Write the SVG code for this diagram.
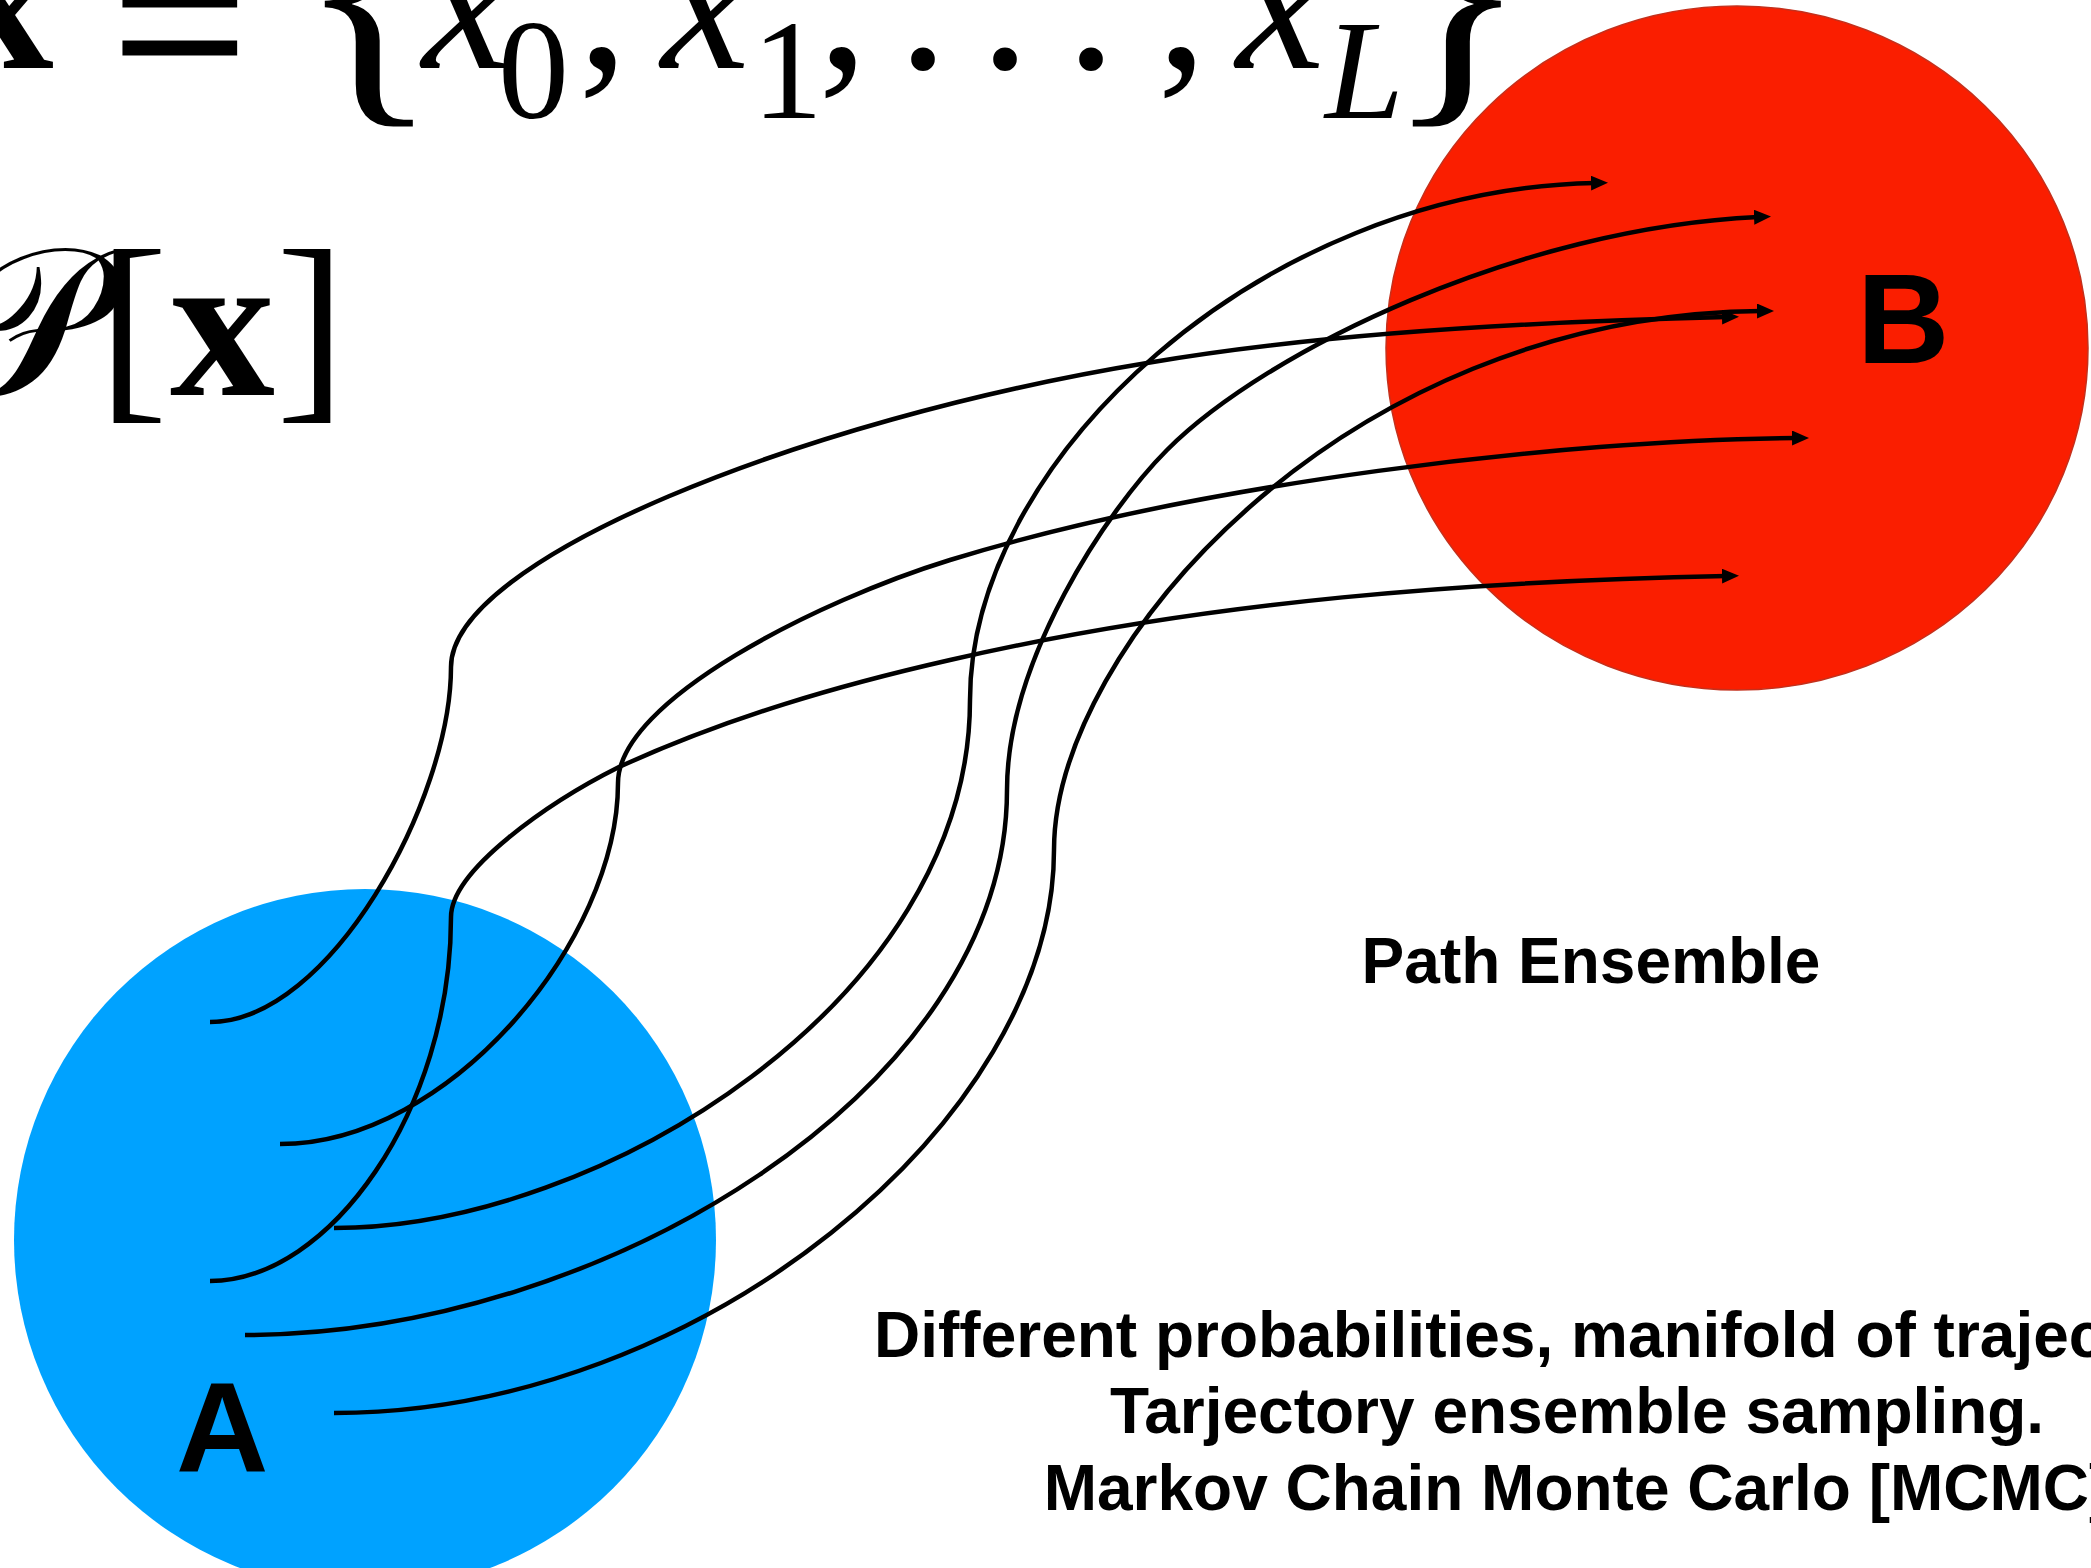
<svg xmlns="http://www.w3.org/2000/svg" width="2091" height="1568" viewBox="0 0 2091 1568">
<style>
.math{font-family:"Liberation Serif","DejaVu Serif",serif;fill:#000}
.lbl{font-family:"Liberation Sans",Arial,sans-serif;font-weight:bold;fill:#000}
.path{fill:none;stroke:#000;stroke-width:4.5;marker-end:url(#arr)}
</style>
<defs>
<marker id="arr" markerUnits="userSpaceOnUse" markerWidth="17" markerHeight="15" refX="4" refY="7.5" orient="auto">
<path d="M0,0 L17,7.5 L0,15 z" fill="#000"/>
</marker>
</defs>
<rect width="2091" height="1568" fill="#fff"/>
<g id="node-A">
<circle cx="365" cy="1240" r="351" fill="#00A2FF"/>
<text class="lbl" x="176" y="1472" font-size="128">A</text>
</g>
<g id="node-B">
<ellipse cx="1737" cy="348" rx="351" ry="342" fill="#FA1E00" stroke="#C4301C" stroke-width="1.5"/>
<text class="lbl" x="1857" y="363" font-size="128">B</text>
</g>
<g id="formula-path">
<text class="math"><tspan x="-46" y="68" font-size="200" font-weight="bold">x</tspan><tspan x="112" y="104" font-size="240" stroke="#000" stroke-width="3">=</tspan><tspan x="298" y="87" font-size="295">{</tspan><tspan x="422" y="68" font-size="200" font-style="italic">x</tspan><tspan x="498" y="118" font-size="142">0</tspan><tspan x="578" y="68" font-size="200">,</tspan><tspan x="661" y="68" font-size="200" font-style="italic">x</tspan><tspan x="752" y="118" font-size="142">1</tspan><tspan x="818" y="68" font-size="200">,</tspan><tspan x="898" y="68" font-size="200">.</tspan><tspan x="980" y="68" font-size="200">.</tspan><tspan x="1066" y="68" font-size="200">.</tspan><tspan x="1157" y="68" font-size="200">,</tspan><tspan x="1236" y="68" font-size="200" font-style="italic">x</tspan><tspan x="1325" y="118" font-size="142" font-style="italic">L</tspan><tspan x="1386" y="87" font-size="295">}</tspan></text>
</g>
<g id="formula-prob">
<text class="math" y="395" font-size="210"><tspan x="100" text-anchor="end" style="font-family:'DejaVu Serif','DejaVu Sans','Noto Sans',serif">𝒫</tspan><tspan x="98">[</tspan><tspan x="170" font-weight="bold">x</tspan><tspan x="276">]</tspan></text>
</g>
<g id="connectors">
<path class="path" d="M210,1022 C330,1022 451,800 451,667 C451,560 800,420 1147,363 C1327,332 1558,321 1726,317"/>
<path class="path" d="M280,1144 C450,1144 618,940 618,783 C618,700 820,600 950,560 C1200,483 1560,440 1796,438"/>
<path class="path" d="M334,1228 C600,1228 970,1000 970,700 C970,460 1260,190 1595,183"/>
<path class="path" d="M210,1281 C330,1281 451,1110 451,917 C451,870 549,802 619,767 C729,717 840,685 950,660 C1210,600 1478,581 1726,576"/>
<path class="path" d="M245,1335 C600,1335 1007,1090 1007,790 C1007,660 1107,510 1167,450 C1267,350 1520,228 1758,217"/>
<path class="path" d="M334,1413 C700,1413 1054,1120 1054,850 C1054,650 1340,315 1761,311"/>
</g>
<g id="texts">
<text class="lbl" x="1591" y="983" font-size="64" text-anchor="middle">Path Ensemble</text>
<text class="lbl" x="874" y="1357" font-size="64">Different probabilities, manifold of trajec</text>
<text class="lbl" x="1577" y="1433" font-size="64" text-anchor="middle">Tarjectory ensemble sampling.</text>
<text class="lbl" x="1577" y="1510" font-size="64" text-anchor="middle">Markov Chain Monte Carlo [MCMC]</text>
</g>
</svg>
